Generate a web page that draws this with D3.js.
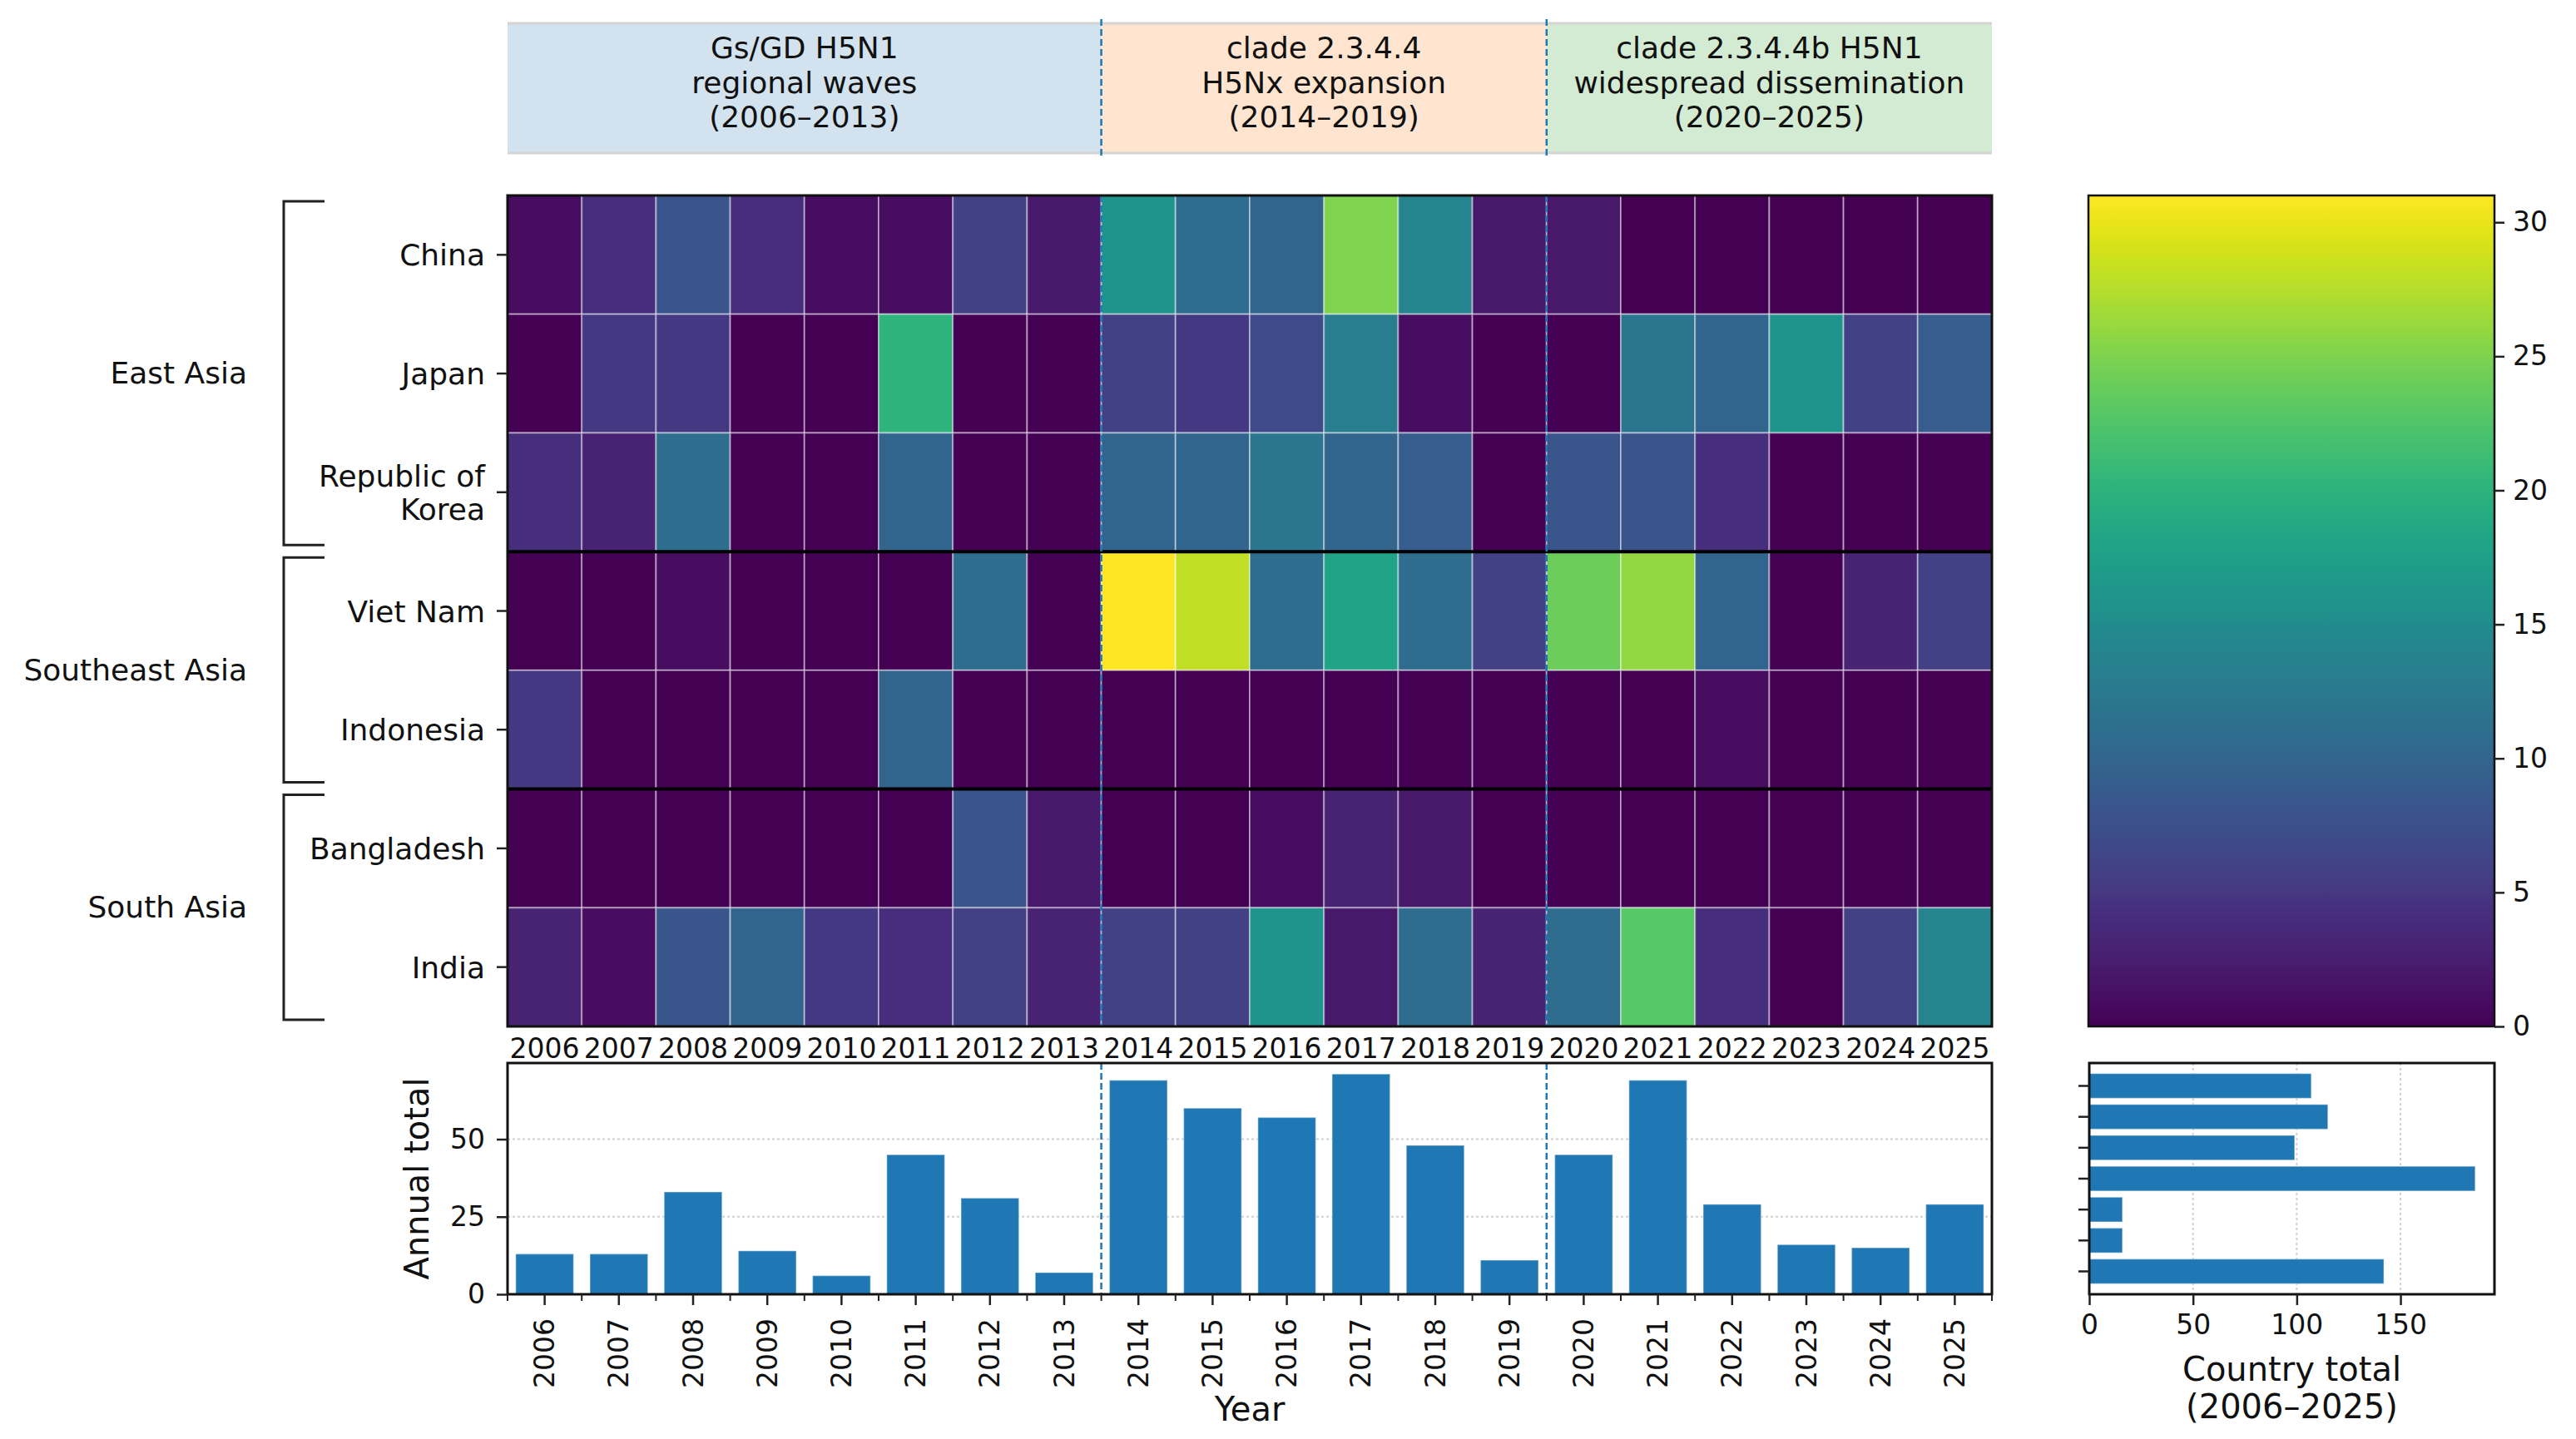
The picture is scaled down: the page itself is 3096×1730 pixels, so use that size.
<!DOCTYPE html>
<html><head><meta charset="utf-8">
<script src="https://cdn.jsdelivr.net/npm/d3@7"></script>
<style>
html,body{margin:0;padding:0;background:#fff;}
text{font-family:"DejaVu Sans",sans-serif;fill:#111;}
</style></head>
<body>
<svg id="chart" width="3096" height="1730"></svg>
<script>
// ---------------- DATA ----------------
const years = ["2006","2007","2008","2009","2010","2011","2012","2013","2014","2015",
               "2016","2017","2018","2019","2020","2021","2022","2023","2024","2025"];
const countries = ["China","Japan","Republic of\nKorea","Viet Nam","Indonesia","Bangladesh","India"];

const valsChina      = [1,4,8,4,1,1,6,2,16,11,10,25,14,2,2,0,0,0,0,0];
const valsJapan      = [0,5,5,0,0,20,0,0,6,5,7,13,1,0,0,12,10,16,6,9];
const valsKorea      = [4,3,11,0,0,10,0,0,10,10,12,10,9,0,8,8,4,0,0,0];
const valsVietNam    = [0,0,1,0,0,0,11,0,31,28,11,18,11,6,24,26,10,0,3,6];
const valsIndonesia  = [5,0,0,0,0,10,0,0,0,0,0,0,0,0,0,0,1,0,0,0];
const valsBangladesh = [0,0,0,0,0,0,8,2,0,0,1,3,2,0,0,0,0,0,0,0];
const valsIndia      = [3,1,8,10,5,4,6,3,6,6,16,2,11,3,11,23,4,0,6,14];

const annualTotals  = [13,13,33,14,6,45,31,7,69,60,57,71,48,11,45,69,29,16,15,29];
const countryTotals = [107,115,99,186,16,16,142];

const regionNames = ["East Asia","Southeast Asia","South Asia"];
const regionFirst = ["China","Viet Nam","Bangladesh"];
const regionLast  = ["Republic of\nKorea","Indonesia","India"];

const periodLines = [["Gs/GD H5N1","regional waves","(2006–2013)"],
                     ["clade 2.3.4.4","H5Nx expansion","(2014–2019)"],
                     ["clade 2.3.4.4b H5N1","widespread dissemination","(2020–2025)"]];
const periodStart = ["2006","2014","2020"];
const periodEnd   = ["2013","2019","2025"];
const periodColors = ["#d2e3ef","#ffe5cf","#d4ebd3"];
const boundaryYears = ["2014","2020"];

const colorTicks = [0,5,10,15,20,25,30];
const annualTicks = [0,25,50];
const countryTicks = [0,50,100,150];
const cmax = 31;

const rows = [valsChina,valsJapan,valsKorea,valsVietNam,valsIndonesia,valsBangladesh,valsIndia];

// ---------------- LAYOUT ----------------
const svg = d3.select("#chart");
const HM = {l:610, r:2394, t:235, b:1234};
const BB = {l:610, r:2394, t:1278, b:1556};
const RB = {l:2511, r:2998, t:1278, b:1556};
const CB = {l:2510, r:2998, t:235, b:1234};
const BAN = {t:28, b:184};
const blue = "#1f77b4";

const x = d3.scaleBand().domain(years).range([HM.l, HM.r]);
const y = d3.scaleBand().domain(countries).range([HM.t, HM.b]);
const color = d3.scaleSequential(d3.interpolateViridis).domain([0, cmax]);

// ---------------- BANNER ----------------
const ban = svg.append("g");
periodLines.forEach((lines,i)=>{
  const x0 = x(periodStart[i]), x1 = x(periodEnd[i]) + x.bandwidth();
  ban.append("rect").attr("x",x0).attr("y",BAN.t).attr("width",x1-x0).attr("height",BAN.b-BAN.t)
     .attr("fill",periodColors[i]);
  const t = ban.append("text").attr("text-anchor","middle").attr("font-size",36)
     .attr("x",(x0+x1)/2);
  lines.forEach((ln,j)=>{
    t.append("tspan").attr("x",(x0+x1)/2).attr("y",70 + j*41.5).text(ln);
  });
});
ban.append("line").attr("x1",HM.l).attr("x2",HM.r).attr("y1",BAN.t).attr("y2",BAN.t)
   .attr("stroke","#d4d4d4").attr("stroke-width",3);
ban.append("line").attr("x1",HM.l).attr("x2",HM.r).attr("y1",BAN.b).attr("y2",BAN.b)
   .attr("stroke","#d4d4d4").attr("stroke-width",3);
boundaryYears.forEach(yr=>{
  ban.append("line").attr("x1",x(yr)).attr("x2",x(yr)).attr("y1",23).attr("y2",190)
     .attr("stroke",blue).attr("stroke-width",2.5).attr("stroke-dasharray","8,4");
});

// ---------------- HEATMAP ----------------
const hm = svg.append("g");
rows.forEach((vals,ri)=>{
  hm.selectAll(null).data(vals).enter().append("rect")
    .attr("x",(d,i)=>x(years[i])).attr("y",y(countries[ri]))
    .attr("width",x.bandwidth()).attr("height",y.bandwidth())
    .attr("fill",d=>color(d))
    .attr("stroke","rgba(255,255,255,0.42)").attr("stroke-width",2);
});
// region separators
[regionFirst[1],regionFirst[2]].forEach(c=>{
  hm.append("line").attr("x1",HM.l).attr("x2",HM.r).attr("y1",y(c)).attr("y2",y(c))
    .attr("stroke","#000").attr("stroke-width",4);
});
boundaryYears.forEach(yr=>{
  hm.append("line").attr("x1",x(yr)).attr("x2",x(yr)).attr("y1",HM.t).attr("y2",HM.b)
    .attr("stroke",blue).attr("stroke-width",2.5).attr("stroke-dasharray","8,4");
});
hm.append("rect").attr("x",HM.l).attr("y",HM.t).attr("width",HM.r-HM.l).attr("height",HM.b-HM.t)
  .attr("fill","none").attr("stroke","#111").attr("stroke-width",3);

// y ticks + labels
countries.forEach(c=>{
  const cy = y(c) + y.bandwidth()/2;
  hm.append("line").attr("x1",HM.l-13).attr("x2",HM.l).attr("y1",cy).attr("y2",cy)
    .attr("stroke","#222").attr("stroke-width",2.5);
  const parts = c.split("\n");
  const t = hm.append("text").attr("text-anchor","end").attr("font-size",36)
    .attr("dominant-baseline","central");
  parts.forEach((p,j)=>{
    t.append("tspan").attr("x",583).attr("y",cy + (j-(parts.length-1)/2)*40).text(p);
  });
});
// x labels under heatmap
years.forEach(yr=>{
  hm.append("text").attr("x",x(yr)+x.bandwidth()/2).attr("y",1272)
    .attr("text-anchor","middle").attr("font-size",33).text(yr);
});
// region brackets
regionNames.forEach((nm,i)=>{
  const top = y(regionFirst[i]) + 7, bot = y(regionLast[i]) + y.bandwidth() - 8;
  hm.append("path").attr("d",`M390,${top}H341V${bot}H390`)
    .attr("fill","none").attr("stroke","#222").attr("stroke-width",3);
  hm.append("text").attr("x",297).attr("y",(top+bot)/2).attr("text-anchor","end")
    .attr("dominant-baseline","central").attr("font-size",36).text(nm);
});

// ---------------- COLORBAR ----------------
const defs = svg.append("defs");
const grad = defs.append("linearGradient").attr("id","vir").attr("x1",0).attr("x2",0).attr("y1",1).attr("y2",0);
d3.range(0,1.0001,0.02).forEach(t=>{
  grad.append("stop").attr("offset",t).attr("stop-color",d3.interpolateViridis(t));
});
const yC = d3.scaleLinear().domain([0,cmax]).range([CB.b,CB.t]);
svg.append("rect").attr("x",CB.l).attr("y",CB.t).attr("width",CB.r-CB.l).attr("height",CB.b-CB.t)
  .attr("fill","url(#vir)").attr("stroke","#111").attr("stroke-width",2.5);
const cbAxis = svg.append("g").attr("transform",`translate(${CB.r},0)`)
  .call(d3.axisRight(yC).tickValues(colorTicks).tickSize(12).tickPadding(10));
cbAxis.select(".domain").remove();
cbAxis.selectAll("line").attr("stroke","#222").attr("stroke-width",2.5);
cbAxis.selectAll("text").attr("font-size",33).attr("font-family","DejaVu Sans").attr("fill","#111");

// ---------------- BOTTOM BAR CHART ----------------
const yB = d3.scaleLinear().domain([0,74.55]).range([BB.b,BB.t]);
const bb = svg.append("g");
annualTicks.filter(v=>v>0).forEach(v=>{
  bb.append("line").attr("x1",BB.l).attr("x2",BB.r).attr("y1",yB(v)).attr("y2",yB(v))
    .attr("stroke","#cfcfcf").attr("stroke-width",2).attr("stroke-dasharray","3,3");
});
const bw = x.bandwidth()*0.78;
bb.selectAll(null).data(annualTotals).enter().append("rect")
  .attr("x",(d,i)=>x(years[i]) + (x.bandwidth()-bw)/2)
  .attr("y",d=>yB(d)).attr("width",bw).attr("height",d=>BB.b-yB(d))
  .attr("fill",blue).attr("stroke","rgba(255,255,255,0.35)").attr("stroke-width",1.5);
boundaryYears.forEach(yr=>{
  bb.append("line").attr("x1",x(yr)).attr("x2",x(yr)).attr("y1",BB.t).attr("y2",BB.b)
    .attr("stroke",blue).attr("stroke-width",2.5).attr("stroke-dasharray","8,4");
});
bb.append("rect").attr("x",BB.l).attr("y",BB.t).attr("width",BB.r-BB.l).attr("height",BB.b-BB.t)
  .attr("fill","none").attr("stroke","#111").attr("stroke-width",3);
const byAxis = bb.append("g").attr("transform",`translate(${BB.l},0)`)
  .call(d3.axisLeft(yB).tickValues(annualTicks).tickSize(13).tickPadding(14));
byAxis.select(".domain").remove();
byAxis.selectAll("line").attr("stroke","#222").attr("stroke-width",2.5);
byAxis.selectAll("text").attr("font-size",33).attr("font-family","DejaVu Sans").attr("fill","#111");
// minor ticks at boundaries, major at centers
years.forEach(yr=>{
  bb.append("line").attr("x1",x(yr)).attr("x2",x(yr)).attr("y1",BB.b).attr("y2",BB.b+8)
    .attr("stroke","#222").attr("stroke-width",2);
  const cx = x(yr)+x.bandwidth()/2;
  bb.append("line").attr("x1",cx).attr("x2",cx).attr("y1",BB.b).attr("y2",BB.b+13)
    .attr("stroke","#222").attr("stroke-width",2.5);
  bb.append("text").attr("transform",`translate(${cx},1585) rotate(-90)`)
    .attr("text-anchor","end").attr("dominant-baseline","central").attr("font-size",33).text(yr);
});
bb.append("line").attr("x1",BB.r).attr("x2",BB.r).attr("y1",BB.b).attr("y2",BB.b+8)
  .attr("stroke","#222").attr("stroke-width",2);
bb.append("text").attr("transform",`translate(501,${(BB.t+BB.b)/2}) rotate(-90)`)
  .attr("text-anchor","middle").attr("dominant-baseline","central").attr("font-size",40).text("Annual total");
bb.append("text").attr("x",(BB.l+BB.r)/2).attr("y",1708).attr("text-anchor","middle")
  .attr("font-size",40).text("Year");

// ---------------- RIGHT BAR CHART ----------------
const xR = d3.scaleLinear().domain([0,195.3]).range([RB.l,RB.r]);
const yR = d3.scaleLinear().domain([-0.74,6.74]).range([RB.t,RB.b]);
const rb = svg.append("g");
countryTicks.filter(v=>v>0).forEach(v=>{
  rb.append("line").attr("x1",xR(v)).attr("x2",xR(v)).attr("y1",RB.t).attr("y2",RB.b)
    .attr("stroke","#cfcfcf").attr("stroke-width",2).attr("stroke-dasharray","3,3");
});
rb.selectAll(null).data(countryTotals).enter().append("rect")
  .attr("x",RB.l).attr("y",(d,i)=>yR(i-0.4)).attr("width",d=>xR(d)-RB.l)
  .attr("height",(d,i)=>yR(i+0.4)-yR(i-0.4))
  .attr("fill",blue).attr("stroke","rgba(255,255,255,0.35)").attr("stroke-width",1.5);
rb.append("rect").attr("x",RB.l).attr("y",RB.t).attr("width",RB.r-RB.l).attr("height",RB.b-RB.t)
  .attr("fill","none").attr("stroke","#111").attr("stroke-width",3);
const rxAxis = rb.append("g").attr("transform",`translate(0,${RB.b})`)
  .call(d3.axisBottom(xR).tickValues(countryTicks).tickSize(13).tickPadding(12));
rxAxis.select(".domain").remove();
rxAxis.selectAll("line").attr("stroke","#222").attr("stroke-width",2.5);
rxAxis.selectAll("text").attr("font-size",33).attr("font-family","DejaVu Sans").attr("fill","#111");
countryTotals.forEach((d,i)=>{
  rb.append("line").attr("x1",RB.l-13).attr("x2",RB.l).attr("y1",yR(i)).attr("y2",yR(i))
    .attr("stroke","#222").attr("stroke-width",2.5);
});
const rl = rb.append("text").attr("text-anchor","middle").attr("font-size",40);
rl.append("tspan").attr("x",(RB.l+RB.r)/2).attr("y",1660).text("Country total");
rl.append("tspan").attr("x",(RB.l+RB.r)/2).attr("y",1705).text("(2006–2025)");
</script>
</body></html>
